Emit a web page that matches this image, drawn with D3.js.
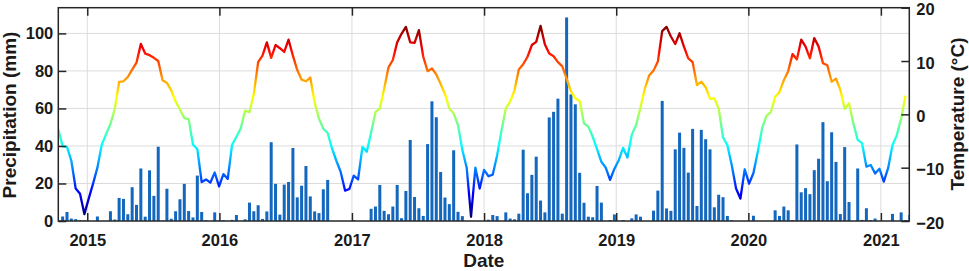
<!DOCTYPE html>
<html>
<head>
<meta charset="utf-8">
<script src="https://cdn.jsdelivr.net/npm/d3@7"></script>
<style>
  html, body { margin: 0; padding: 0; background: #fff; }
  svg { display: block; }
  text { font-family: "Liberation Sans", Arial, Helvetica, sans-serif; font-weight: bold; fill: #1a1a1a; }
</style>
</head>
<body>
<svg id="chart" width="969" height="271"></svg>
<script>
// ---------------- DATA ----------------
const stepDays = 12;                       // sampling interval of both series
const precipStart = "2014-10-25";          // date of first precipitation bar
const tempStart = "2014-10-13";            // date of first temperature point
const yearTicks = ["2015", "2016", "2017", "2018", "2019", "2020", "2021"];
const precipTicks = [0, 20, 40, 60, 80, 100];
const tempTicks = [-20, -10, 0, 10, 20];

// precipitation (mm), one value per 12-day interval
const precipitation = [
  2.4, 4.8, 1.3, 1.0, 0.4, 0.3, 0, 0, 2.4, 0,
  0, 5.2, 0.8, 12.3, 11.8, 3.6, 18, 8.6, 28, 2.3,
  27, 13.4, 39.6, 0.2, 17.2, 1.2, 5.2, 11.6, 19.8, 5.3,
  1.9, 24.2, 4.8, 0.4, 0, 4.6, 0.3, 0.4, 0, 0.6,
  3.2, 0, 0.9, 9.8, 5.2, 8.4, 1.1, 5.1, 42, 19.8,
  3.4, 19.4, 20.8, 38.9, 12.6, 18.8, 29.3, 13.1, 5.1, 4.2,
  16.9, 21.9, 0, 0, 0, 0, 0, 0.5, 0, 0,
  0, 6.5, 7.7, 19.2, 5.4, 3.6, 7.7, 19.2, 1.5, 16,
  43.2, 12.8, 6.8, 2.7, 41, 63.8, 55.3, 26.1, 12.5, 9,
  37.7, 4.9, 2.6, 0, 0, 0, 0, 0, 0.7, 3.2,
  2.6, 0, 4.6, 1.3, 0.9, 3.9, 38, 14.8, 24.6, 34.3,
  10.9, 4.6, 55.2, 58.2, 65.2, 3.9, 108.5, 67.5, 62.2, 25.7,
  9.7, 2.3, 2.0, 18.7, 9.8, 0, 0.5, 3.5, 0, 0.5,
  0, 1.4, 3.5, 2.3, 0, 0, 5.5, 16.2, 64, 6.7,
  5.4, 38.2, 47.1, 39, 25.8, 49.1, 8, 48.6, 43.6, 38.2,
  7.3, 14, 12.7, 2.7, 0.4, 0, 0, 0, 0, 2.8,
  0, 0, 0, 0, 5.7, 2.7, 7.7, 5.7, 0.5, 40.8,
  15.3, 17.5, 14.3, 27.1, 33.2, 52.7, 21.2, 47.3, 31.5, 3.7,
  39.4, 10.1, 0, 28, 0.6, 6.8, 0.5, 1.3, 0, 0,
  0, 3.8, 0, 4.6, 0.5, 3.2
];

// air temperature (°C), one value per 12-day interval
const temperature = [
  -2.8, -6.0, -6.1, -8.7, -13.9, -14.9, -18.7, -15.8, -13.0, -10.0,
  -5.7, -3.7, -1.8, 1.0, 6.1, 6.2, 7.0, 8.4, 9.7, 13.2,
  11.4, 11.1, 10.6, 10.0, 6.4, 5.9, 4.5, 2.4, 0.9, -0.7,
  -0.9, -5.7, -6.5, -12.7, -12.2, -12.8, -10.9, -13.5, -11.2, -12.1,
  -5.7, -4.2, -2.6, 0.7, 0.4, 3.8, 9.8, 11.0, 13.5, 10.6,
  13.0, 12.4, 11.7, 14.0, 11.0, 8.3, 6.5, 6.2, 6.9, 2.2,
  -0.8, -2.7, -3.5, -6.4, -8.7, -10.8, -14.3, -14.0, -11.5, -12.2,
  -6.1, -7.0, -3.4, 0.4, 1.1, 4.8, 8.8, 10.2, 13.5, 15.1,
  16.4, 13.5, 13.4, 15.8, 10.8, 8.1, 8.6, 7.5, 5.7, 3.8,
  1.1, 0.2, -2.0, -6.7, -10.0, -19.2, -10.0, -13.9, -10.4, -11.6,
  -11.3, -7.7, -3.1, 1.1, 2.4, 4.5, 8.4, 9.4, 10.8, 13.0,
  13.6, 16.6, 13.1, 11.4, 10.9, 9.8, 9.0, 6.7, 4.3, 3.0,
  2.5, -1.7, -2.3, -4.2, -6.5, -8.9, -10.0, -12.3, -10.2, -8.6,
  -6.3, -8.1, -3.8, -2.0, 1.3, 4.8, 7.3, 8.2, 9.9, 15.6,
  16.4, 14.6, 13.2, 15.2, 12.7, 10.5, 9.8, 5.5, 6.1, 5.1,
  2.9, 3.0, 1.1, -4.3, -5.8, -9.5, -13.9, -15.8, -10.3, -13.0,
  -11.0, -7.0, -2.6, -0.3, 0.4, 3.3, 4.2, 6.4, 8.1, 11.3,
  10.3, 14.0, 12.7, 10.5, 14.3, 12.7, 9.6, 9.2, 6.1, 6.7,
  4.6, 1.0, 2.1, -1.7, -4.8, -5.4, -9.8, -9.5, -11.1, -10.2,
  -12.6, -10.1, -5.8, -3.9, -0.8, 3.5
];

// ---------------- CHART ----------------
const L = 58.3, R = 909.3, T = 7.7, B = 221;
const svg = d3.select("#chart");

const day = 86400000;
const p0 = new Date(precipStart + "T00:00:00Z").getTime();
const t0 = new Date(tempStart + "T00:00:00Z").getTime();
const precipData = precipitation.map((v, i) => ({ date: new Date(p0 + i * stepDays * day), v }));
const tempData = temperature.map((v, i) => ({ date: new Date(t0 + i * stepDays * day), v }));

const x = d3.scaleUtc()
  .domain([new Date(Date.UTC(2014, 9, 13)), new Date(Date.UTC(2021, 2, 20, 12))])
  .range([L, R]);
const yP = d3.scaleLinear().domain([0, 113.7]).range([B, T]);
const yT = d3.scaleLinear().domain([-20, 20]).range([B, T]);
const yearDates = yearTicks.map(y => new Date(Date.UTC(+y, 0, 1)));

svg.append("defs").append("clipPath").attr("id", "plotclip")
  .append("rect").attr("x", L).attr("y", T).attr("width", R - L).attr("height", B - T);

// grid
const grid = svg.append("g").attr("stroke", "#dcdcdc").attr("stroke-width", 1);
grid.selectAll("line.h").data(precipTicks.filter(d => d > 0)).join("line")
  .attr("x1", L).attr("x2", R).attr("y1", d => yP(d)).attr("y2", d => yP(d));
grid.selectAll("line.v").data(yearDates).join("line")
  .attr("x1", d => x(d)).attr("x2", d => x(d)).attr("y1", T).attr("y2", B);

// bars
const barW = 3;
svg.append("g").attr("clip-path", "url(#plotclip)")
  .selectAll("rect").data(precipData).join("rect")
  .attr("x", d => x(d.date) - barW / 2)
  .attr("width", barW)
  .attr("y", d => yP(d.v))
  .attr("height", d => B - yP(d.v))
  .attr("fill", "#1367be");

// temperature line with jet colormap by value
function jet(t) {
  const c = v => Math.max(0, Math.min(1, v));
  const r = c(1.5 - Math.abs(4 * t - 3));
  const g = c(1.5 - Math.abs(4 * t - 2));
  const b = c(1.5 - Math.abs(4 * t - 1));
  return d3.rgb(r * 255, g * 255, b * 255).formatHex();
}
const tmin = d3.min(temperature), tmax = d3.max(temperature);
const grad = svg.select("defs").append("linearGradient")
  .attr("id", "jetgrad").attr("gradientUnits", "userSpaceOnUse")
  .attr("x1", 0).attr("x2", 0).attr("y1", yT(tmin)).attr("y2", yT(tmax));
d3.range(0, 1.0001, 0.0625).forEach(s => {
  grad.append("stop").attr("offset", s).attr("stop-color", jet(s));
});
svg.append("path").datum(tempData)
  .attr("clip-path", "url(#plotclip)")
  .attr("fill", "none")
  .attr("stroke", "url(#jetgrad)")
  .attr("stroke-width", 2.3)
  .attr("stroke-linejoin", "round")
  .attr("d", d3.line().x(d => x(d.date)).y(d => yT(d.v)));

// axes
const fs = "16.5px";
const axL = svg.append("g").attr("transform", `translate(${L},0)`)
  .call(d3.axisLeft(yP).tickValues(precipTicks).tickSize(-8).tickPadding(5));
const axR = svg.append("g").attr("transform", `translate(${R},0)`)
  .call(d3.axisRight(yT).tickValues(tempTicks).tickSize(-8).tickPadding(7));
const axB = svg.append("g").attr("transform", `translate(0,${B})`)
  .call(d3.axisBottom(x).tickValues(yearDates).tickFormat(d3.utcFormat("%Y")).tickSize(-8).tickPadding(13));
const axT = svg.append("g").attr("transform", `translate(0,${T})`)
  .call(d3.axisTop(x).tickValues(yearDates).tickFormat("").tickSize(-8));
[axL, axR, axB, axT].forEach(a => {
  a.select(".domain").remove();
  a.selectAll(".tick line").attr("stroke", "#262626").attr("stroke-width", 1.5);
  a.selectAll(".tick text").style("font-size", fs).style("font-family", null).attr("fill", "#1a1a1a");
});
axR.selectAll(".tick text").attr("y", 2);

// frame
svg.append("rect").attr("x", L).attr("y", T).attr("width", R - L).attr("height", B - T)
  .attr("fill", "none").attr("stroke", "#262626").attr("stroke-width", 1.5);

// axis titles
svg.append("text").attr("transform", `translate(16,115) rotate(-90)`)
  .attr("text-anchor", "middle").style("font-size", "19px").text("Precipitation (mm)");
svg.append("text").attr("transform", `translate(964,114) rotate(-90)`)
  .attr("text-anchor", "middle").style("font-size", "19px").text("Temperature (°C)");
svg.append("text").attr("x", (L + R) / 2).attr("y", 267)
  .attr("text-anchor", "middle").style("font-size", "19px").text("Date");
</script>
</body>
</html>
